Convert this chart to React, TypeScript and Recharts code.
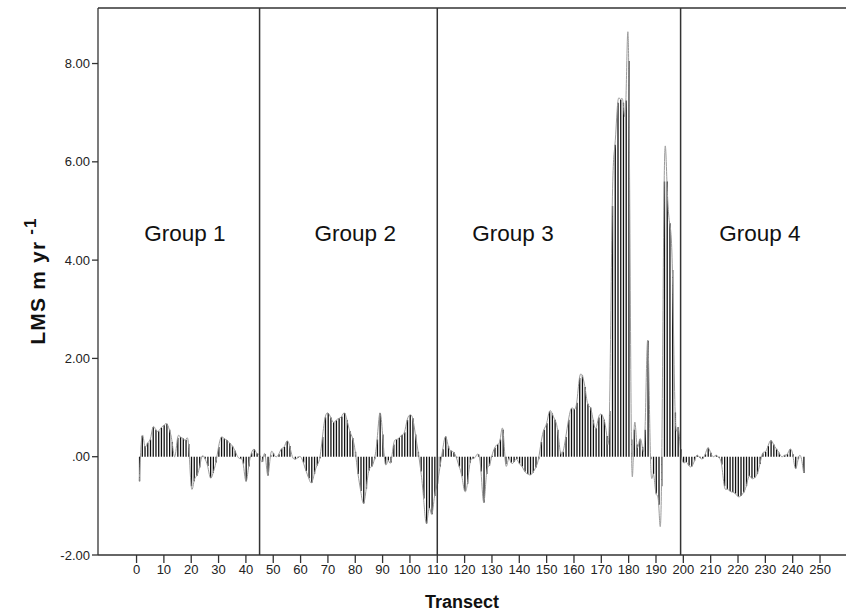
import { Bar, ComposedChart, Line, ReferenceDot, ReferenceLine, XAxis, YAxis } from "recharts"

// transect numbers 1..244 and their LMS (m/yr) values
const transects = Array.from({ length: 244 }, (_, i) => i + 1)

const lms = [
  // 1-44 (group 1)
  -0.5, 0.42, 0.22, 0.28, 0.35, 0.6, 0.55, 0.52, 0.59, 0.64,
  0.67, 0.55, 0.3, 0.0, 0.38, 0.4, 0.37, 0.34, 0.26, -0.6,
  -0.5, -0.39, -0.22, 0.01, -0.04, -0.19, -0.43, -0.33, -0.12, 0.2,
  0.4, 0.37, 0.34, 0.28, 0.22, 0.12, 0.0, -0.04, -0.14, -0.5,
  -0.2, 0.07, 0.15, 0.07,
  // 45-110 (group 2)
  0.02, -0.1, 0.05, -0.38, 0.03, 0.07, 0.0, 0.05, 0.16, 0.2,
  0.32, 0.22, 0.0, -0.05, -0.02, 0.0, -0.12, -0.29, -0.44, -0.53,
  -0.35, -0.18, -0.03, 0.4, 0.8, 0.89, 0.8, 0.7, 0.74, 0.78,
  0.82, 0.89, 0.74, 0.52, 0.38, 0.1, -0.35, -0.7, -0.95, -0.65,
  -0.28, -0.2, -0.05, 0.35, 0.89, 0.45, -0.15, -0.08, -0.12, 0.25,
  0.35, 0.38, 0.44, 0.5, 0.75, 0.85, 0.78, 0.45, 0.1, -0.3,
  -0.85, -1.36, -1.05, -1.17, -0.8, -0.55,
  // 111-199 (group 3)
  -0.2, 0.15, 0.41, 0.22, 0.12, 0.09, -0.02, -0.2, -0.4, -0.7,
  -0.55, -0.12, -0.04, 0.0, 0.05, -0.3, -0.93, -0.35, -0.18, 0.02,
  0.18, 0.25, 0.35, 0.55, -0.15, -0.05, -0.12, -0.11, -0.05, -0.14,
  -0.2, -0.3, -0.35, -0.37, -0.32, -0.22, -0.05, 0.3, 0.55, 0.68,
  0.92, 0.88, 0.75, 0.55, 0.1, 0.1, 0.4, 0.75, 0.98, 0.97,
  1.1, 1.6, 1.65, 1.42, 1.08, 1.0, 0.75, 0.58, 0.8, 0.86,
  0.75, 0.42, 0.93, 5.1, 6.35, 7.2, 7.27, 7.2, 7.25, 8.05,
  0.35, 0.55, 0.25, 0.35, 0.2, 0.55, 2.36, -0.05, -0.35, -0.75,
  -0.98, -0.6, 5.6, 5.6, 4.75, 3.8, 0.9, 0.6, 0.15,
  // 200-244 (group 4)
  -0.12, -0.11, -0.18, -0.2, -0.09, 0.03, -0.02, -0.04, 0.05, 0.18,
  0.08, 0.0, 0.03, -0.02, -0.16, -0.6, -0.66, -0.7, -0.72, -0.75,
  -0.81, -0.8, -0.73, -0.6, -0.4, -0.44, -0.43, -0.35, -0.15, 0.07,
  0.1, 0.22, 0.33, 0.25, 0.16, 0.08, 0.0, 0.03, 0.05, 0.15,
  0.05, -0.24, -0.05, 0.0, -0.33,
]

const xTicks = [0, 10, 20, 30, 40, 50, 60, 70, 80, 90, 100, 110, 120, 130, 140, 150, 160, 170, 180, 190, 200, 210, 220, 230, 240, 250]
const yTicks = [-2, 0, 2, 4, 6, 8]
const groupBreaks = [45, 110, 199]
const groupNames = ["Group 1", "Group 2", "Group 3", "Group 4"]
const groupLabelX = [17.7, 80, 137.7, 228]

const data = transects.map((t, i) => ({ t, lms: lms[i] }))

const font = "'Liberation Sans', Arial, sans-serif"
const Y_MAX = 9.13

const YLabel = () => (
  <text
    transform="translate(45, 281) rotate(-90)"
    textAnchor="middle"
    fontFamily={font}
    fontWeight="bold"
    fontSize={21}
    letterSpacing={1.2}
    fill="#111"
  >
    LMS m yr
    <tspan dy={-9} fontSize={17}>
      {" -1"}
    </tspan>
  </text>
)

export default function App() {
  return (
    <div style={{ position: "absolute", left: 0, top: 0 }}>
      <ComposedChart
        width={846}
        height={613}
        data={data}
        margin={{ top: 8, right: 0, bottom: 0, left: 0 }}
      >
        <XAxis
          dataKey="t"
          type="number"
          domain={[-14.1, 259.5]}
          ticks={xTicks}
          interval={0}
          allowDataOverflow
          height={58}
          tickSize={8}
          stroke="#333"
          strokeWidth={1.3}
          tick={{ fontFamily: font, fontSize: 13, fill: "#222" }}
          label={{
            value: "Transect",
            position: "insideBottom",
            offset: 5,
            dx: -10,
            style: { fontFamily: font, fontWeight: "bold", fontSize: 18, fill: "#111" },
          }}
        />
        <YAxis
          type="number"
          domain={[-2, Y_MAX]}
          ticks={yTicks}
          interval={0}
          allowDataOverflow
          width={98}
          tickSize={6}
          stroke="#333"
          strokeWidth={1.3}
          tickFormatter={(v: number) => (v === 0 ? ".00" : v.toFixed(2))}
          tick={{ fontFamily: font, fontSize: 13, fill: "#222" }}
          label={<YLabel />}
        />
        <ReferenceLine y={Y_MAX} stroke="#333" strokeWidth={1.5} />
        <Bar dataKey="lms" fill="#111" barSize={1.3} isAnimationActive={false} />
        <Line
          dataKey="lms"
          type="natural"
          stroke="#9a9a9a"
          strokeWidth={1}
          dot={false}
          activeDot={false}
          isAnimationActive={false}
        />
        {groupBreaks.map((b) => (
          <ReferenceLine key={b} x={b} stroke="#333" strokeWidth={1.5} />
        ))}
        {groupNames.map((name, i) => (
          <ReferenceDot
            key={name}
            x={groupLabelX[i]}
            y={4.55}
            r={0}
            fill="none"
            stroke="none"
            label={{
              value: name,
              position: "center",
              style: { fontFamily: font, fontSize: 22.5, fill: "#111" },
            }}
          />
        ))}
      </ComposedChart>
    </div>
  )
}
